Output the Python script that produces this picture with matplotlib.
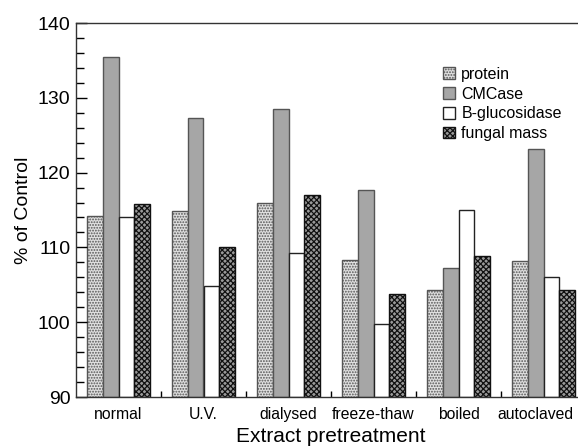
import numpy as np
import matplotlib.pyplot as plt
import matplotlib.transforms as mtransforms
from matplotlib.ticker import MultipleLocator, FixedLocator

plt.rcParams['font.family'] = ['Liberation Sans', 'DejaVu Sans']
plt.rcParams['hatch.linewidth'] = 0.9

# Veriler
kategoriler = ["normal", "U.V.", "dialysed", "freeze-thaw", "boiled", "autoclaved"]
protein = [114.2, 114.9, 116.0, 108.3, 104.3, 108.2]
cmcase = [135.4, 127.3, 128.5, 117.7, 107.3, 123.2]
bglukozidaz = [114.0, 104.9, 109.3, 99.7, 115.0, 106.0]
mantar_kutlesi = [115.8, 110.0, 117.0, 103.8, 108.9, 104.3]

seriler = [
    ("protein", protein, dict(facecolor="#e0e0e0", hatch="......", edgecolor="#555555")),
    ("CMCase", cmcase, dict(facecolor="#a6a6a6", edgecolor="#555555")),
    ("B-glucosidase", bglukozidaz, dict(facecolor="white", edgecolor="#222222")),
    ("fungal mass", mantar_kutlesi, dict(facecolor="#9a9a9a", hatch="xxxxxx", edgecolor="#111111")),
]

fig = plt.figure(figsize=(5.78, 4.47), dpi=100)
# sag kenar resmin disina tasiyor (orijinaldeki gibi kirpik)
ax = fig.add_axes([76 / 578, 50 / 447, 510 / 578, 374 / 447])

x = np.arange(len(kategoriler)) + 0.5
genislik = 0.185
for i, (ad, degerler, stil) in enumerate(seriler):
    konum = x + (i - 1.5) * genislik
    alt = 90
    ax.bar(konum, np.array(degerler) - alt, bottom=alt, width=genislik,
           linewidth=1.0, label=ad, **stil)

ax.set_xlim(0, len(kategoriler))
ax.set_ylim(90, 140)
ax.yaxis.set_major_locator(MultipleLocator(10))
ax.yaxis.set_minor_locator(MultipleLocator(2))
ax.xaxis.set_major_locator(FixedLocator(x))
ax.xaxis.set_minor_locator(FixedLocator(np.arange(1, len(kategoriler))))
ax.set_xticklabels(kategoriler, fontsize=11.3)
ax.tick_params(axis="x", which="major", length=0, pad=7)
ax.tick_params(axis="x", which="minor", direction="in", length=4, width=1)
ax.tick_params(axis="y", which="major", direction="in", length=8, width=1, labelsize=14, pad=4)
ax.tick_params(axis="y", which="minor", direction="in", length=6, width=1)
ax.tick_params(right=False, top=False, which="both")

# son etiket sag kenara sigsin diye biraz sola (tick_params'tan sonra)
kaydir = mtransforms.ScaledTranslation(-8 / 100, 0, fig.dpi_scale_trans)
son = ax.xaxis.get_major_ticks()[-1].label1
son.set_transform(son.get_transform() + kaydir)

for s in ax.spines.values():
    s.set_color("#333333")
    s.set_linewidth(1.0)

ax.set_ylabel("% of Control", fontsize=14, labelpad=4)
ax.set_xlabel("Extract pretreatment", fontsize=15, labelpad=4)

ax.legend(loc="upper left", bbox_to_anchor=(0.707, 0.9), frameon=False,
          fontsize=11.5, handlelength=0.75, handleheight=0.75, handletextpad=0.4,
          labelspacing=0.3, borderaxespad=0)

fig.savefig("out.png", dpi=100)
